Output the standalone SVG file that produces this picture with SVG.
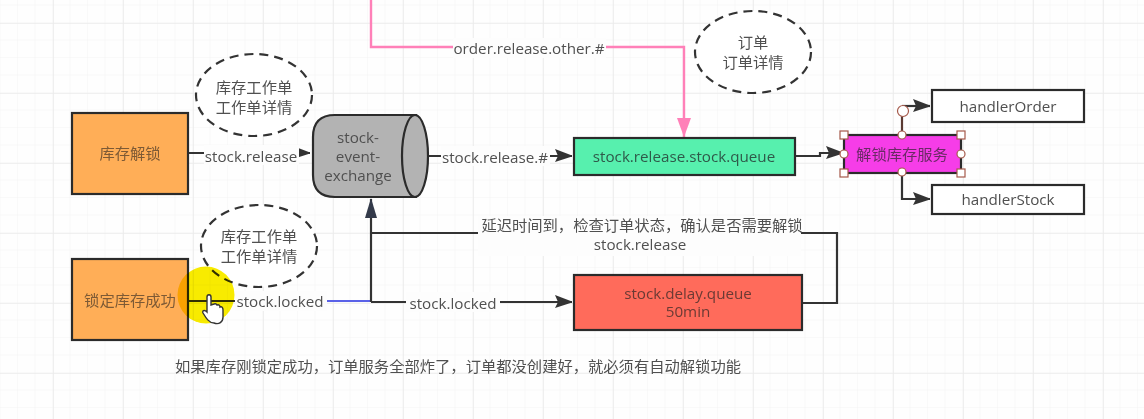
<svg xmlns="http://www.w3.org/2000/svg" width="1144" height="419" viewBox="0 0 1144 419">
<style>
text{font-family:"Open Sans","Noto Sans CJK SC",sans-serif;font-size:15.2px;fill:#505050;text-anchor:middle}
.zh{font-family:"Noto Sans CJK SC",sans-serif;font-size:15.3px}
.box{stroke:#2b2b2b;stroke-width:2.2}
.ell{fill:#fff;stroke:#333;stroke-width:2.2;stroke-dasharray:9 6}
.c{fill:none;stroke:#333;stroke-width:2.2}
.lab{fill:#fdfdfd}
.h{fill:#fff;stroke:#a5594a;stroke-width:1.2}
</style>
<defs>
<pattern id="minor" width="17.5" height="17.5" patternUnits="userSpaceOnUse" x="0.5" y="5.5"><path d="M17.5 0V17.5M0 17.5H17.5" fill="none" stroke="#f3f3f3" stroke-width="1"/></pattern>
<pattern id="major" width="70" height="70" patternUnits="userSpaceOnUse" x="53" y="23"><path d="M0 0V70M0 0H70" fill="none" stroke="#ebebeb" stroke-width="1.6"/></pattern>
<marker id="a" markerUnits="userSpaceOnUse" markerWidth="18" markerHeight="14" refX="17" refY="7" orient="auto"><path d="M0 0L17 6.5V7.5L0 13L3 7Z" fill="#333"/></marker>
</defs>
<rect width="1144" height="419" fill="#fefefe"/>
<rect width="1144" height="419" fill="url(#minor)"/>
<rect width="1144" height="419" fill="url(#major)"/>

<g id="connectors">
<path class="c" d="M189 153H310" marker-end="url(#a)"/>
<rect class="lab" x="204" y="145" width="95" height="20"/>
<text x="251" y="162">stock.release</text>

<path class="c" d="M189 301H371"/>
<path d="M327 301H371" fill="none" stroke="#5a62e8" stroke-width="2"/>
<rect class="lab" x="235" y="291" width="92" height="20"/>
<text x="280" y="307">stock.locked</text>

<path class="c" d="M371 302V199"/>
<path d="M371 198L377 218H365Z" fill="#333a4a"/>
<path class="c" d="M371 302H572" marker-end="url(#a)"/>
<rect class="lab" x="406" y="292" width="94" height="20"/>
<text x="453" y="309">stock.locked</text>

<path class="c" d="M803 303H837V233H371"/>
<rect class="lab" x="478" y="216" width="323" height="40"/>
<text class="zh" x="642" y="231">延迟时间到，检查订单状态，确认是否需要解锁</text>
<text x="640" y="250">stock.release</text>

<path class="c" d="M429 156H572" marker-end="url(#a)"/>
<rect class="lab" x="441" y="146" width="109" height="20"/>
<text x="495" y="163">stock.release.#</text>

<path d="M371 0V47H684V137" fill="none" stroke="#ff80b8" stroke-width="2.4"/>
<path d="M684 137L677 118H691Z" fill="#ff80b8"/>
<rect class="lab" x="453" y="38" width="153" height="20"/>
<text x="529" y="54">order.release.other.#</text>

<path class="c" d="M796 156H820V153H843" marker-end="url(#a)"/>
<path class="c" d="M902 133V106" style="stroke:#5a3a32"/>
<path class="c" d="M902 106H930" marker-end="url(#a)"/>
<path class="c" d="M902 172V199H930" marker-end="url(#a)"/>
</g>

<g id="n-unlock"><rect class="box" x="72" y="113" width="116" height="81" fill="#ffae57"/><text class="zh" x="130" y="159" style="fill:#7d5a35">库存解锁</text></g>
<g id="n-locked"><rect class="box" x="72" y="259" width="116" height="81" fill="#ffae57"/><text class="zh" x="130" y="306" style="fill:#7d5a35">锁定库存成功</text></g>

<g id="n-ell1"><ellipse class="ell" cx="254" cy="95" rx="58" ry="41"/><text class="zh"><tspan x="254" y="93">库存工作单</tspan><tspan x="254" y="113">工作单详情</tspan></text></g>
<g id="n-ell2"><ellipse class="ell" cx="259" cy="246" rx="58" ry="41"/><text class="zh"><tspan x="259" y="242">库存工作单</tspan><tspan x="259" y="262">工作单详情</tspan></text></g>
<g id="n-ell3"><ellipse class="ell" cx="753" cy="52" rx="58" ry="41"/><text class="zh"><tspan x="753" y="48">订单</tspan><tspan x="753" y="68">订单详情</tspan></text></g>

<g id="n-exchange">
<path class="box" d="M416 115H335Q313 115 313 137V175Q313 197 335 197H416Z" fill="#b3b3b3"/>
<ellipse class="box" cx="415" cy="156" rx="13" ry="41" fill="#b3b3b3"/>
<text><tspan x="358" y="143">stock-</tspan><tspan x="358" y="162">event-</tspan><tspan x="358" y="181">exchange</tspan></text>
</g>

<g id="n-release-queue"><rect class="box" x="574" y="138" width="221" height="37" fill="#57f0ae"/><text x="684" y="162" style="fill:#2f5a4a">stock.release.stock.queue</text></g>
<g id="n-delay-queue"><rect class="box" x="574" y="275" width="228" height="55" fill="#ff6b5b"/><text style="fill:#6b3a34"><tspan x="688" y="299">stock.delay.queue</tspan><tspan x="688" y="317">50min</tspan></text></g>

<g id="n-service">
<rect class="box" x="844" y="135" width="117" height="38" fill="#f63de8"/>
<text class="zh" x="902" y="160" style="fill:#6b2a66">解锁库存服务</text>
<rect class="h" x="840" y="131" width="8" height="8"/><rect class="h" x="957" y="131" width="8" height="8"/><rect class="h" x="840" y="169" width="8" height="8"/><rect class="h" x="957" y="169" width="8" height="8"/>
<circle class="h" cx="844" cy="154" r="4"/><circle class="h" cx="961" cy="154" r="4"/><circle class="h" cx="902" cy="135" r="4"/><circle class="h" cx="902" cy="172" r="4"/>
<circle class="h" cx="903" cy="111" r="5.5"/>
</g>

<g id="n-handler-order"><rect class="box" x="932" y="90" width="152" height="32" fill="#fff"/><text x="1008" y="112">handlerOrder</text></g>
<g id="n-handler-stock"><rect class="box" x="932" y="185" width="152" height="29" fill="#fff"/><text x="1008" y="205">handlerStock</text></g>

<text class="zh" x="458" y="372">如果库存刚锁定成功，订单服务全部炸了，订单都没创建好，就必须有自动解锁功能</text>

<circle cx="206" cy="295" r="28.5" fill="#f9ec00" style="mix-blend-mode:multiply"/>
<path d="M207 297C207 294 211 294 211 297V305L214 304C216 303 217 305 217 305C219 304 220 306 220 307C222 306 223 308 223 310V317C223 322 219 325 214 323C209 323 206 318 203 313C202 311 204 309 207 312Z" fill="#fff" stroke="#333" stroke-width="1.4"/>
</svg>
